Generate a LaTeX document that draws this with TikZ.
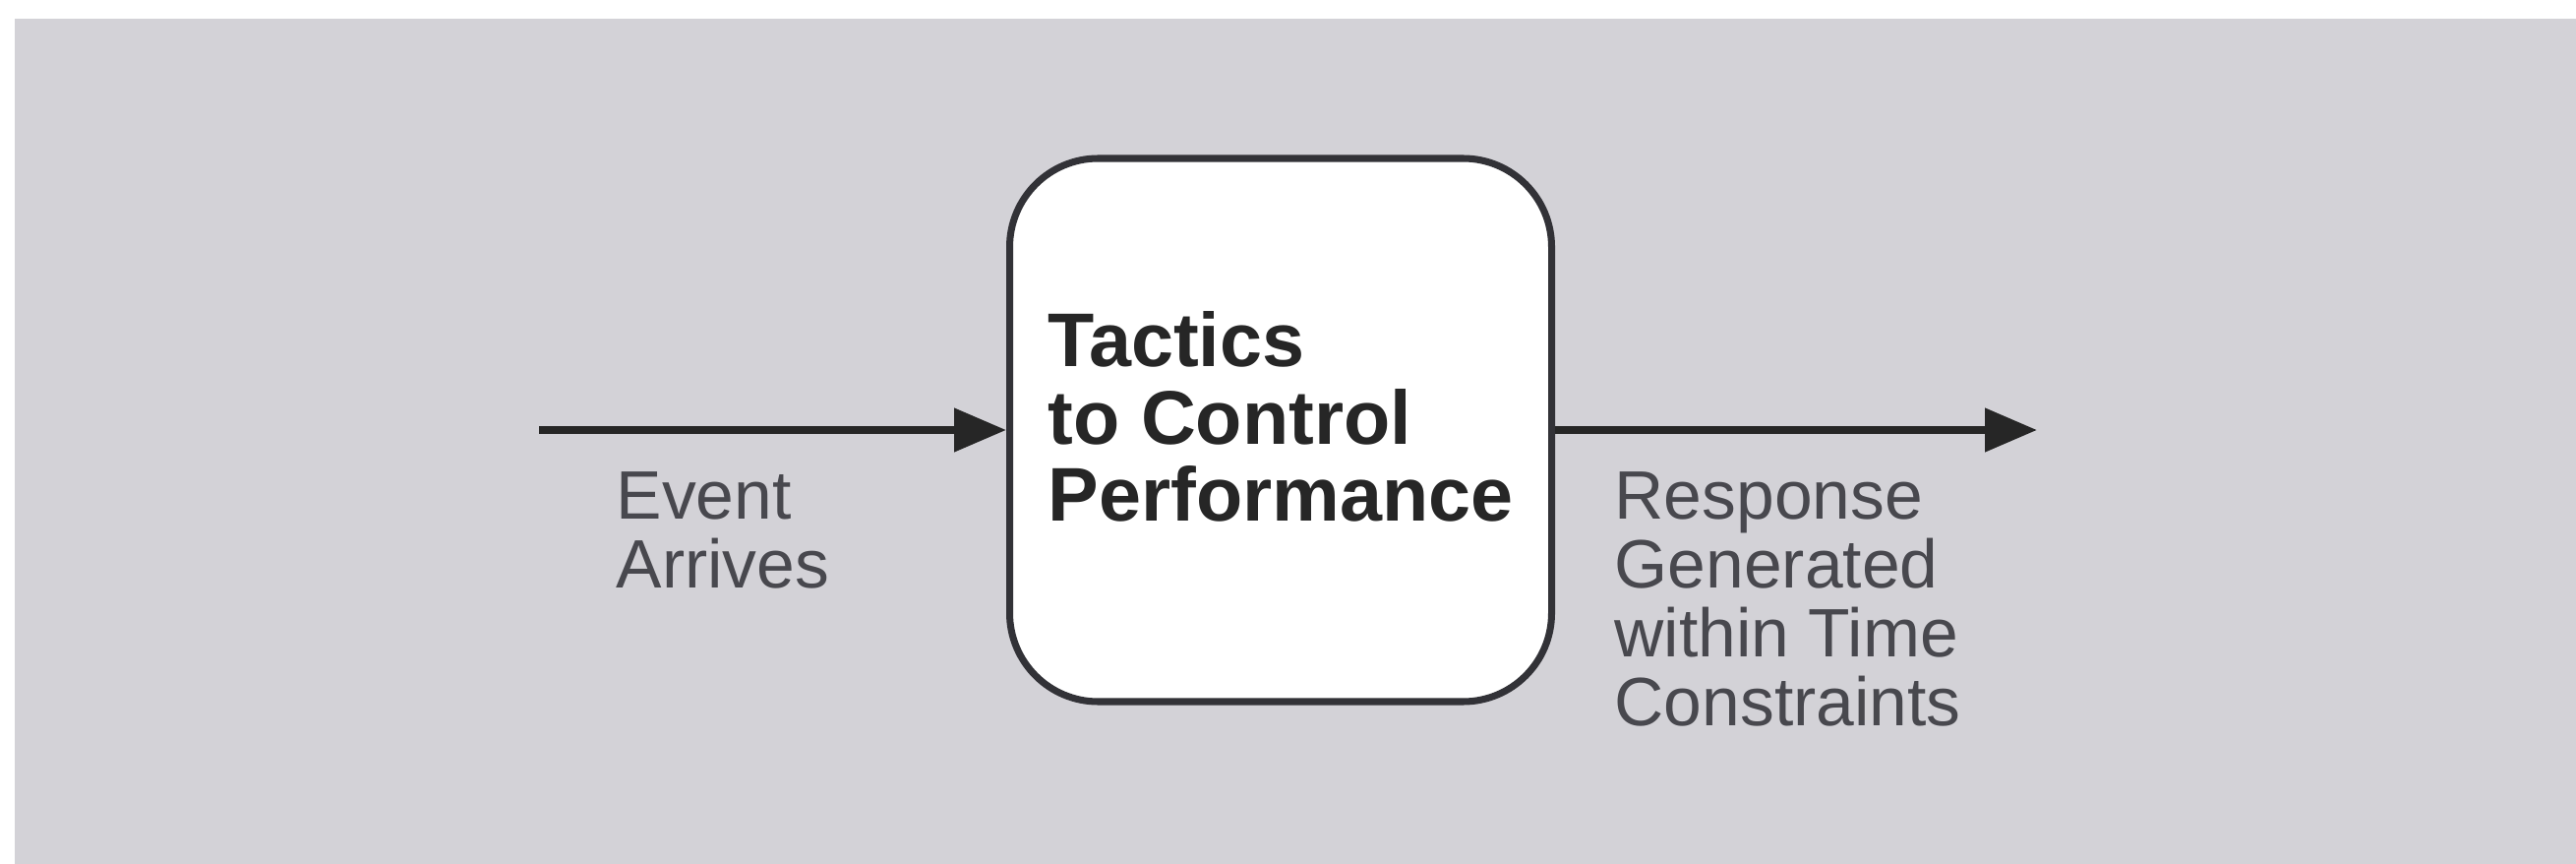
\documentclass[tikz,border=0pt]{standalone}
\usepackage{xcolor}
\usepackage{fontspec}
\setmainfont{Liberation Sans}
\usetikzlibrary{positioning,arrows.meta}
\definecolor{panelgray}{RGB}{211,210,215}
\definecolor{inkgray}{RGB}{72,72,78}
\definecolor{boxline}{RGB}{50,50,55}

\begin{document}
\begin{tikzpicture}[
    tactic/.style={rectangle, draw=boxline, line width=2pt, fill=white, rounded corners=0.9cm,
        minimum width=5.51cm, minimum height=5.52cm, align=left, text=black!85, text depth=0.28cm,
        font=\bfseries\fontsize{22pt}{22.4pt}\selectfont},
    note/.style={align=left, inner sep=0pt, text=inkgray, font=\fontsize{19.8pt}{19.9pt}\selectfont},
    flow/.style={-{Triangle[length=0.53cm,width=0.43cm]}, line width=2.2pt, draw=black!85}
]
    \useasboundingbox (0,0) rectangle (26.19,-8.78);
    \fill[panelgray] (0.15,-0.19) rectangle (26.19,-8.78);

    \node[tactic] (perf) at (13.02,-4.37) {Tactics\\to Control\\Performance};
    \coordinate (event) at (5.48,-4.37);
    \coordinate (response) at (20.71,-4.37);

    \node[note, below right=0.42cm and 0.78cm of event] (eventlbl) {Event\\Arrives};
    \node[note, below right=0.42cm and 0.60cm of perf.east] (responselbl) {Response\\Generated\\within Time\\Constraints};

    \draw[flow] (event) -- (perf);
    \draw[flow] (perf) -- (response);
\end{tikzpicture}
\end{document}
